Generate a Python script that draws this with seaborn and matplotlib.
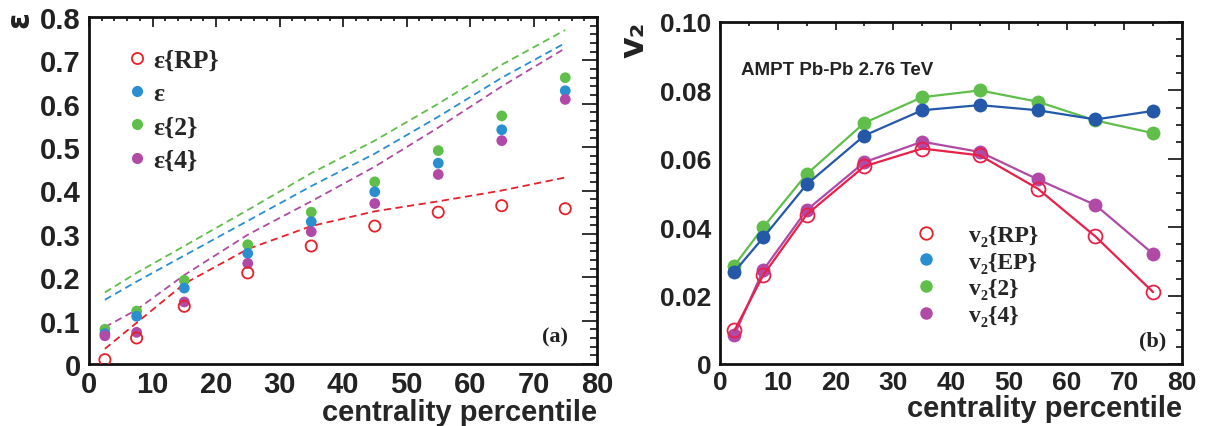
import numpy as np
import pandas as pd
import matplotlib
matplotlib.use("Agg")
import matplotlib.pyplot as plt
import seaborn as sns
from matplotlib.lines import Line2D
from matplotlib.ticker import MultipleLocator, FuncFormatter

# ---- data ----
centrality = [2.5, 7.5, 15, 25, 35, 45, 55, 65, 75]

eps_rp = [0.010, 0.060, 0.133, 0.210, 0.272, 0.318, 0.350, 0.365, 0.358]
eps_pp = [0.070, 0.110, 0.175, 0.255, 0.328, 0.397, 0.463, 0.540, 0.630]
eps_2 = [0.080, 0.122, 0.193, 0.275, 0.350, 0.420, 0.492, 0.572, 0.660]
eps_4 = [0.065, 0.073, 0.143, 0.232, 0.305, 0.370, 0.437, 0.515, 0.610]

# dashed curves
dash_rp = [0.035, 0.095, 0.185, 0.265, 0.318, 0.352, 0.375, 0.400, 0.430]
dash_pp = [0.148, 0.190, 0.250, 0.330, 0.410, 0.485, 0.570, 0.660, 0.740]
dash_2 = [0.165, 0.210, 0.272, 0.355, 0.440, 0.515, 0.600, 0.690, 0.770]
dash_4 = [0.085, 0.125, 0.205, 0.298, 0.375, 0.455, 0.545, 0.640, 0.728]

v2_rp = [0.0098, 0.0260, 0.0437, 0.0578, 0.0630, 0.0610, 0.0513, 0.0373, 0.0210]
v2_ep = [0.0270, 0.0370, 0.0525, 0.0668, 0.0742, 0.0757, 0.0742, 0.0715, 0.0740]
v2_2 = [0.0288, 0.0400, 0.0555, 0.0705, 0.0780, 0.0800, 0.0767, 0.0712, 0.0675]
v2_4 = [0.0085, 0.0275, 0.0450, 0.0590, 0.0650, 0.0620, 0.0540, 0.0465, 0.0322]

RED = "#e8202a"
PINK = "#e8204a"
BLUE = "#2a8fd0"
DKBLUE = "#2458a8"
GREEN = "#5fbf4a"
MAGENTA = "#b04aa6"
INK = "#222222"

sns.set_style("white")
plt.rcParams["font.family"] = ["Liberation Sans", "DejaVu Sans"]
plt.rcParams["font.weight"] = "bold"
plt.rcParams["axes.linewidth"] = 2.0

df_eps = pd.DataFrame({"x": centrality, "rp": eps_rp, "pp": eps_pp, "e2": eps_2, "e4": eps_4,
                       "d_rp": dash_rp, "d_pp": dash_pp, "d_2": dash_2, "d_4": dash_4})
df_v2 = pd.DataFrame({"x": centrality, "rp": v2_rp, "ep": v2_ep, "v2": v2_2, "v4": v2_4})

fig = plt.figure(figsize=(12.18, 4.27), dpi=100)
ax1 = fig.add_axes([89 / 1218, 1 - 365 / 427, 508 / 1218, 347 / 427])
ax2 = fig.add_axes([720 / 1218, 1 - 365 / 427, 462 / 1218, 342 / 427])


def style_axis(ax, ylen, xlen):
    ax.tick_params(which="both", direction="in", top=True, right=True, width=1.3, color=INK)
    ax.tick_params(axis="y", which="major", length=ylen, pad=6)
    ax.tick_params(axis="y", which="minor", length=ylen * 0.45)
    ax.tick_params(axis="x", which="major", length=xlen, pad=4)
    ax.tick_params(axis="x", which="minor", length=xlen * 0.45)
    for s in ax.spines.values():
        s.set_color("#111111")
    for lab in ax.get_xticklabels() + ax.get_yticklabels():
        lab.set_fontweight("bold")
        lab.set_color(INK)


def legend_font(size):
    return {"family": "Liberation Serif", "weight": "bold", "size": size}


# ---- panel (a) ----
for col, c in [("d_2", GREEN), ("d_pp", BLUE), ("d_4", MAGENTA), ("d_rp", RED)]:
    sns.lineplot(data=df_eps, x="x", y=col, ax=ax1, color=c, lw=1.3, linestyle=(0, (4, 2.5)))
for col, c in [("e2", GREEN), ("pp", BLUE), ("e4", MAGENTA)]:
    sns.scatterplot(data=df_eps, x="x", y=col, ax=ax1, color=c, s=60, edgecolor="none", zorder=3)
sns.scatterplot(data=df_eps, x="x", y="rp", ax=ax1, s=65, marker="o", facecolor="none",
                edgecolor=RED, linewidth=1.3, zorder=4)

ax1.set_xlim(0, 80)
ax1.set_ylim(0, 0.8)
ax1.xaxis.set_major_locator(MultipleLocator(10))
ax1.xaxis.set_minor_locator(MultipleLocator(2))
ax1.yaxis.set_major_locator(MultipleLocator(0.1))
ax1.yaxis.set_minor_locator(MultipleLocator(0.02))
ax1.yaxis.set_major_formatter(FuncFormatter(lambda v, p: "0" if abs(v) < 1e-9 else f"{v:.1f}"))
ax1.tick_params(labelsize=21)
ax1.set_ylabel("")
ax1.set_xlabel("centrality percentile", fontsize=21, fontweight="bold", loc="right", labelpad=0)
style_axis(ax1, 11, 7)
fig.text(20 / 1218, 1 - 20 / 427, "ε", rotation=90, fontsize=22, fontweight="bold",
         ha="center", va="center", family="DejaVu Sans", color=INK)

h_a = [
    Line2D([], [], ls="none", marker="o", ms=8, mfc="none", mec=RED, mew=1.3),
    Line2D([], [], ls="none", marker="o", ms=8, mfc=BLUE, mec="none"),
    Line2D([], [], ls="none", marker="o", ms=8, mfc=GREEN, mec="none"),
    Line2D([], [], ls="none", marker="o", ms=8, mfc=MAGENTA, mec="none"),
]
l_a = ["ε{RP}", "ε", "ε{2}", "ε{4}"]
ax1.legend(h_a, l_a, loc="upper left", bbox_to_anchor=(0.018, 0.975), frameon=False,
           prop=legend_font(18.5), labelspacing=0.4, handletextpad=0.05, handlelength=1.2)
ax1.text(0.943, 0.08, "(a)", transform=ax1.transAxes, ha="right", va="center",
         fontsize=16, fontweight="bold", family="Liberation Serif", color=INK)

# ---- panel (b) ----
sns.lineplot(data=df_v2, x="x", y="v2", ax=ax2, color=GREEN, lw=1.6, marker="o", ms=10,
             mec="none", zorder=2)
sns.lineplot(data=df_v2, x="x", y="ep", ax=ax2, color=DKBLUE, lw=1.6, marker="o", ms=10,
             mec="none", zorder=3)
sns.lineplot(data=df_v2, x="x", y="v4", ax=ax2, color=MAGENTA, lw=1.6, marker="o", ms=10,
             mec="none", zorder=2)
sns.lineplot(data=df_v2, x="x", y="rp", ax=ax2, color=PINK, lw=1.6, marker="o", ms=10,
             mfc="none", mec=PINK, mew=1.3, zorder=4)

ax2.set_xlim(0, 80)
ax2.set_ylim(0, 0.1)
ax2.xaxis.set_major_locator(MultipleLocator(10))
ax2.xaxis.set_minor_locator(MultipleLocator(5))
ax2.yaxis.set_major_locator(MultipleLocator(0.02))
ax2.yaxis.set_minor_locator(MultipleLocator(0.005))
ax2.yaxis.set_major_formatter(FuncFormatter(lambda v, p: "0" if abs(v) < 1e-9 else f"{v:.2f}"))
ax2.tick_params(labelsize=19)
ax2.set_ylabel("")
ax2.set_xlabel("centrality percentile", fontsize=21, fontweight="bold", loc="right", labelpad=0)
style_axis(ax2, 10, 6)
fig.text(634 / 1218, 1 - 40 / 427, "v₂", rotation=90, fontsize=24,
         fontweight="bold", ha="center", va="center", family="DejaVu Sans", color=INK)
ax2.text(0.045, 0.862, "AMPT Pb-Pb 2.76 TeV", transform=ax2.transAxes, fontsize=13.5,
         fontweight="bold", va="center", color=INK)

h_b = [
    Line2D([], [], ls="none", marker="o", ms=9, mfc="none", mec=RED, mew=1.3),
    Line2D([], [], ls="none", marker="o", ms=9, mfc=BLUE, mec="none"),
    Line2D([], [], ls="none", marker="o", ms=9, mfc=GREEN, mec="none"),
    Line2D([], [], ls="none", marker="o", ms=9, mfc=MAGENTA, mec="none"),
]
l_b = ["v₂{RP}", "v₂{EP}", "v₂{2}", "v₂{4}"]
ax2.legend(h_b, l_b, loc="upper left", bbox_to_anchor=(0.375, 0.47), frameon=False,
           prop=legend_font(17), labelspacing=0.22, handletextpad=1.3, handlelength=1.0)
ax2.text(0.965, 0.07, "(b)", transform=ax2.transAxes, ha="right", va="center",
         fontsize=16, fontweight="bold", family="Liberation Serif", color=INK)

fig.savefig("out.png", dpi=100)
